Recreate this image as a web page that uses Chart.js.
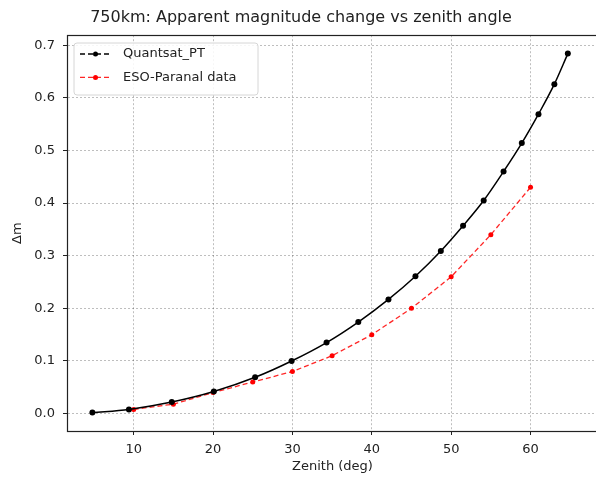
<!DOCTYPE html>
<html><head><meta charset="utf-8">
<script src="https://cdn.jsdelivr.net/npm/chart.js@4"></script>
<style>html,body{margin:0;padding:0;background:#fff;overflow:hidden}#wrap{width:596px;height:478px;overflow:hidden}</style>
</head><body><div id="wrap"><canvas id="c" width="602" height="478"></canvas></div>
<script>
const quantsatZenith = [4.8, 9.4, 14.8, 20.1, 25.3, 29.9, 34.3, 38.3, 42.1, 45.5, 48.7, 51.5, 54.1, 56.6, 58.9, 61.0, 63.0, 64.7];
const quantsatDm = [0.002, 0.008, 0.022, 0.042, 0.069, 0.100, 0.135, 0.174, 0.217, 0.261, 0.309, 0.357, 0.405, 0.460, 0.514, 0.569, 0.626, 0.684];
const esoZenith = [10, 15, 20, 25, 30, 35, 40, 45, 50, 55, 60];
const esoDm = [0.008, 0.018, 0.040, 0.060, 0.080, 0.110, 0.150, 0.200, 0.260, 0.340, 0.430];
const xTicks = [10, 20, 30, 40, 50, 60];
const yTicks = [0.0, 0.1, 0.2, 0.3, 0.4, 0.5, 0.6, 0.7];

Chart.defaults.font.family = "'DejaVu Sans', sans-serif";
Chart.defaults.color = '#222';

const framePlugin = {
  id: 'frame',
  afterDatasetsDraw(chart) {
    const a = chart.chartArea, ctx = chart.ctx;
    ctx.save();
    ctx.strokeStyle = '#222';
    ctx.lineWidth = 1.2;
    ctx.setLineDash([]);
    ctx.strokeRect(Math.round(a.left) + 0.5, Math.round(a.top) + 0.5, Math.round(a.right - a.left) - 1, Math.round(a.bottom - a.top));
    ctx.restore();
  }
};

const legendPlugin = {
  id: 'inlegend',
  afterDraw(chart) {
    const ctx = chart.ctx, a = chart.chartArea;
    const x = Math.round(a.left) + 7, y = Math.round(a.top) + 8, w = 184, h = 52, r = 3;
    ctx.save();
    ctx.beginPath();
    ctx.moveTo(x + r, y); ctx.lineTo(x + w - r, y); ctx.quadraticCurveTo(x + w, y, x + w, y + r);
    ctx.lineTo(x + w, y + h - r); ctx.quadraticCurveTo(x + w, y + h, x + w - r, y + h);
    ctx.lineTo(x + r, y + h); ctx.quadraticCurveTo(x, y + h, x, y + h - r);
    ctx.lineTo(x, y + r); ctx.quadraticCurveTo(x, y, x + r, y);
    ctx.closePath();
    ctx.fillStyle = 'rgba(255,255,255,0.85)';
    ctx.fill();
    ctx.strokeStyle = '#d6d6d6';
    ctx.lineWidth = 1;
    ctx.stroke();
    chart.data.datasets.forEach((ds, i) => {
      const yy = y + 11 + i * 23.4;
      ctx.strokeStyle = ds.borderColor;
      ctx.lineWidth = ds.borderWidth;
      ctx.setLineDash([5, 3]);
      ctx.beginPath(); ctx.moveTo(x + 6, yy); ctx.lineTo(x + 36, yy); ctx.stroke();
      ctx.setLineDash([]);
      ctx.fillStyle = ds.pointBackgroundColor;
      ctx.beginPath(); ctx.arc(x + 21.5, yy, 2.5, 0, Math.PI * 2); ctx.fill();
      ctx.fillStyle = '#222';
      ctx.font = "13px 'DejaVu Sans', sans-serif";
      ctx.textBaseline = 'middle';
      ctx.textAlign = 'left';
      ctx.fillText(ds.label, x + 49, yy);
    });
    ctx.restore();
  }
};

const gridCommon = {
  color: 'rgba(0,0,0,0.32)',
  lineWidth: 0.8,
  tickColor: '#222',
  tickLength: 4,
  tickWidth: 1,
  tickBorderDash: []
};

new Chart(document.getElementById('c'), {
  type: 'line',
  data: {
    datasets: [
      {
        label: 'Quantsat_PT',
        data: quantsatZenith.map((v, i) => ({x: v, y: quantsatDm[i]})),
        borderColor: '#000',
        backgroundColor: '#000',
        pointBackgroundColor: '#000',
        pointBorderColor: '#000',
        borderWidth: 1.5,
        pointRadius: 3,
        pointBorderWidth: 0,
        cubicInterpolationMode: 'monotone',
        fill: false
      },
      {
        label: 'ESO-Paranal data',
        data: esoZenith.map((v, i) => ({x: v, y: esoDm[i]})),
        borderColor: 'rgba(255,0,0,0.85)',
        backgroundColor: '#ff0000',
        pointBackgroundColor: '#ff0000',
        pointBorderColor: '#ff0000',
        borderWidth: 1.3,
        borderDash: [5, 3],
        pointRadius: 2.5,
        pointBorderWidth: 0,
        tension: 0,
        fill: false
      }
    ]
  },
  options: {
    responsive: false,
    animation: false,
    devicePixelRatio: 1,
    layout: {padding: {left: 0, right: 0, top: 0, bottom: 0}},
    plugins: {
      legend: {display: false},
      tooltip: {enabled: false},
      title: {
        display: true,
        text: '750km: Apparent magnitude change vs zenith angle',
        color: '#222',
        font: {size: 16, weight: 'normal'},
        padding: {top: 8, bottom: 8}
      }
    },
    scales: {
      x: {
        type: 'linear',
        min: 1.6,
        max: 68.5,
        afterFit(s) { s.height = 47; s.paddingLeft = 0; s.paddingRight = 0; },
        afterBuildTicks(s) { s.ticks = xTicks.map(v => ({value: v})); },
        ticks: {font: {size: 13}, color: '#222', padding: 7, maxRotation: 0, callback: v => String(v)},
        grid: gridCommon,
        border: {display: true, color: '#222', width: 1, dash: [2, 2]},
        title: {display: true, text: 'Zenith (deg)', font: {size: 13}, color: '#222', padding: {top: 0, bottom: 4}}
      },
      y: {
        type: 'linear',
        min: -0.033,
        max: 0.719,
        afterFit(s) { s.width = 67; s.paddingTop = 0; s.paddingBottom = 0; },
        afterBuildTicks(s) { s.ticks = yTicks.map(v => ({value: v})); },
        ticks: {font: {size: 13}, color: '#222', padding: 8, callback: v => Number(v).toFixed(1)},
        grid: gridCommon,
        border: {display: true, color: '#222', width: 1, dash: [2, 2]},
        title: {display: true, text: 'Δm', font: {size: 13}, color: '#222', padding: {top: 10, bottom: 0}}
      }
    }
  },
  plugins: [framePlugin, legendPlugin]
});
</script>
</body></html>
